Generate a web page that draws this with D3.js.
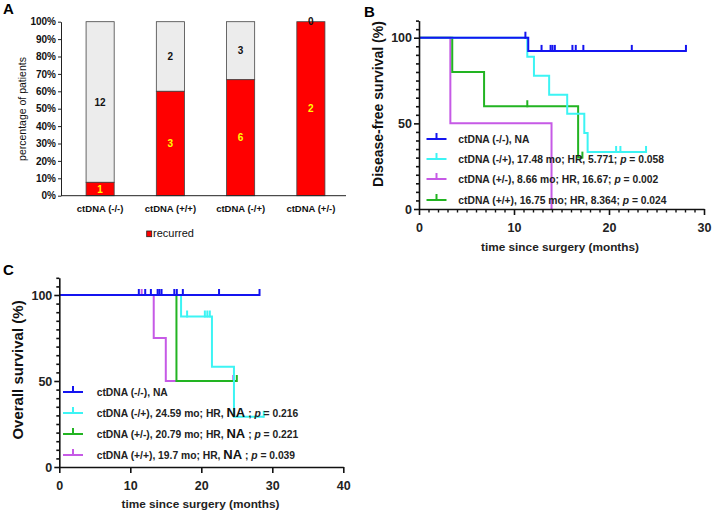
<!DOCTYPE html>
<html><head><meta charset="utf-8">
<script src="https://cdn.jsdelivr.net/npm/d3@7"></script>
<style>
body{margin:0;background:#fff;}
svg{display:block;font-family:"Liberation Sans",Arial,sans-serif;}
</style></head>
<body><svg id="c" width="714" height="514"></svg>
<script>
// ---------- Panel A data ----------
const barCategories = ["ctDNA (-/-)", "ctDNA (+/+)", "ctDNA (-/+)", "ctDNA (+/-)"];
const recurredCounts = [1, 3, 6, 2];
const notRecurredCounts = [12, 2, 3, 0];
const pctTicks = [0, 10, 20, 30, 40, 50, 60, 70, 80, 90, 100];

// ---------- Panel B (disease-free survival) ----------
const dfsLegend = ["ctDNA (-/-), NA", "ctDNA (-/+), 17.48 mo; HR, 5.771; ", "ctDNA (+/-), 8.66 mo; HR, 16.67; ", "ctDNA (+/+), 16.75 mo; HR, 8.364; "];
const dfsP = ["", "0.058", "0.002", "0.024"];
const dfsNegNeg = [[0,100],[11.5,92.3],[28.1,92.3]];
const dfsNegNegCensor = [11.2, 12.9, 13.85, 14.05, 14.3, 16.15, 16.5, 17.3, 22.4, 28.1];
const dfsNegPos = [[0,100],[11.4,88.9],[12.1,77.8],[13.7,66.7],[15.6,55.6],[17.4,44.4],[17.75,33.3],[23.9,33.3]];
const dfsNegPosCensor = [20.75, 21.2, 23.9];
const dfsPosNeg = [[0,100],[3.3,50],[13.95,0]];
const dfsPosNegCensor = [];
const dfsPosPos = [[0,100],[3.5,80],[6.85,60],[16.75,30],[17.2,30]];
const dfsPosPosCensor = [11.4, 17.2];
const dfsYTicks = [0, 50, 100];
const dfsXTicks = [0, 10, 20, 30];

// ---------- Panel C (overall survival) ----------
const osLegend = ["ctDNA (-/-), NA", "ctDNA (-/+), 24.59 mo; HR, ", "ctDNA (+/-), 20.79 mo; HR, ", "ctDNA (+/+), 19.7 mo; HR, "];
const osP = ["", "0.216", "0.221", "0.039"];
const osNegNeg = [[0,100],[28.2,100]];
const osNegNegCensor = [11.2, 12.1, 12.9, 13.85, 14.1, 14.4, 16.2, 16.55, 17.4, 22.5, 28.2];
const osNegPos = [[0,100],[17.15,87.5],[21.5,58.3],[24.6,29.2],[28.8,29.2]];
const osNegPosCensor = [18.0, 20.5, 20.85, 21.2, 28.8];
const osPosNeg = [[0,100],[16.5,50],[25.0,50]];
const osPosNegCensor = [25.0];
const osPosPos = [[0,100],[13.3,75],[15.0,50],[24.5,50]];
const osPosPosCensor = [11.6, 24.5];
const osYTicks = [0, 50, 100];
const osXTicks = [0, 10, 20, 30, 40];

const COL = {blue:"#1414f0", cyan:"#3cf4f4", purple:"#c65ae6", green:"#22b422"};

const svg = d3.select("#c");

// ================= Panel A =================
(function(){
  const g = svg.append("g");
  const y = d3.scaleLinear().domain([0,100]).range([195.7,21.7]);
  const x = d3.scaleBand().domain(barCategories).range([65,346]).padding(0);
  const bw = x.bandwidth()*0.4;
  const data = barCategories.map((c,i)=>{
    const tot = recurredCounts[i]+notRecurredCounts[i];
    return {c, r:recurredCounts[i], n:notRecurredCounts[i], pr:100*recurredCounts[i]/tot};
  });
  // gray (not recurred) full bars
  g.selectAll("rect.nr").data(data).enter().append("rect")
    .attr("x",d=>x(d.c)+x.bandwidth()/2-bw/2).attr("width",bw)
    .attr("y",y(100)).attr("height",d=>y(d.pr)-y(100))
    .attr("fill","#ececec").attr("stroke","#444").attr("stroke-width",0.8);
  g.selectAll("rect.r").data(data).enter().append("rect")
    .attr("x",d=>x(d.c)+x.bandwidth()/2-bw/2).attr("width",bw)
    .attr("y",d=>y(d.pr)).attr("height",d=>y(0)-y(d.pr))
    .attr("fill","#ff0000").attr("stroke","#444").attr("stroke-width",0.8);
  // labels
  g.selectAll("text.nr").data(data).enter().append("text")
    .attr("x",d=>x(d.c)+x.bandwidth()/2).attr("y",d=>y((d.pr+100)/2)+3.5)
    .attr("text-anchor","middle").attr("font-size",10).attr("font-weight","bold").attr("fill","#111")
    .text(d=>d.n);
  g.selectAll("text.r").data(data).enter().append("text")
    .attr("x",d=>x(d.c)+x.bandwidth()/2).attr("y",d=>y(d.pr/2)+3.5)
    .attr("text-anchor","middle").attr("font-size",10).attr("font-weight","bold").attr("fill","#ffff00")
    .text(d=>d.r);
  // y axis
  const ya = g.append("g").attr("transform","translate(61,0)")
    .call(d3.axisLeft(y).tickValues(pctTicks).tickSize(3).tickSizeOuter(0).tickFormat(d=>d+"%"));
  ya.select(".domain").attr("stroke","#222").attr("stroke-width",1);
  ya.selectAll(".tick line").attr("stroke","#222");
  ya.selectAll("text").attr("font-size",10).attr("font-weight","bold").attr("fill","#111")
    .attr("font-family","Liberation Sans, Arial, sans-serif").attr("x",-5);
  // x axis
  const xa = g.append("g").attr("transform","translate(0,195.7)")
    .call(d3.axisBottom(x).tickSize(0).tickSizeOuter(0));
  xa.select(".domain").attr("d","M-4,0H346").attr("transform","translate(0,0)").attr("stroke","#222");
  xa.select(".domain").attr("d","M61,0H346");
  xa.selectAll("text").attr("font-size",9.5).attr("font-weight","bold").attr("fill","#111")
    .attr("font-family","Liberation Sans, Arial, sans-serif").attr("dy","1.45em");
  g.append("text").attr("transform","translate(26,109) rotate(-90)")
    .attr("text-anchor","middle").attr("font-size",10.5).attr("fill","#111").text("percentage of patients");
  // legend
  g.append("rect").attr("x",146.7).attr("y",231).attr("width",5).attr("height",5.7)
    .attr("fill","#ff0000").attr("stroke","#222").attr("stroke-width",0.8);
  g.append("text").attr("x",153).attr("y",237).attr("font-size",11).attr("fill","#111").text("recurred");
  g.append("text").attr("x",3).attr("y",14).attr("font-size",15).attr("font-weight","bold").text("A");
})();

// ================= Survival panel helper =================
function survivalPanel(opt){
  const g = svg.append("g");
  const x = d3.scaleLinear().domain([0,opt.xmax]).range(opt.xr);
  const y = d3.scaleLinear().domain([0,110]).range(opt.yr);
  const line = d3.line().x(d=>x(d[0])).y(d=>y(d[1])).curve(d3.curveStepAfter);
  function survAt(steps,t){ let s=steps[0][1]; steps.forEach(p=>{ if(p[0]<=t) s=p[1]; }); return s; }
  opt.curves.forEach(c=>{
    g.append("path").attr("d",line(c.steps)).attr("fill","none").attr("stroke",c.color)
      .attr("stroke-width",2).attr("stroke-linejoin","miter");
    g.selectAll(null).data(c.censor).enter().append("line")
      .attr("x1",d=>x(d)).attr("x2",d=>x(d))
      .attr("y1",d=>y(survAt(c.steps,d))+1).attr("y2",d=>y(survAt(c.steps,d))-6)
      .attr("stroke",c.color).attr("stroke-width",2);
  });
  // axes
  const ya = g.append("g").attr("transform",`translate(${opt.xr[0]},0)`)
    .call(d3.axisLeft(y).tickValues(opt.yTicks).tickSize(5).tickSizeOuter(0));
  ya.select(".domain").attr("stroke","#111").attr("stroke-width",1.6);
  ya.selectAll(".tick line").attr("stroke","#111").attr("stroke-width",1.6);
  ya.selectAll("text").attr("font-size",12.5).attr("font-weight","bold").attr("fill","#222")
    .attr("font-family","Liberation Sans, Arial, sans-serif").attr("x",-7);
  const yMinor = d3.range(0,111,5).filter(v=>!opt.yTicks.includes(v));
  g.append("g").attr("transform",`translate(${opt.xr[0]},0)`)
    .call(d3.axisLeft(y).tickValues(yMinor).tickSize(3).tickFormat(""))
    .call(s=>{s.select(".domain").remove(); s.selectAll("line").attr("stroke","#111").attr("stroke-width",1.6);});
  const xa = g.append("g").attr("transform",`translate(0,${opt.yr[0]})`)
    .call(d3.axisBottom(x).tickValues(opt.xTicks).tickSize(6).tickSizeOuter(0));
  xa.select(".domain").attr("stroke","#111").attr("stroke-width",1.6);
  xa.selectAll(".tick line").attr("stroke","#111").attr("stroke-width",1.6);
  xa.selectAll("text").attr("font-size",12.5).attr("font-weight","bold").attr("fill","#222")
    .attr("font-family","Liberation Sans, Arial, sans-serif").attr("dy","1.15em");
  if(opt.xMinor){
    const xm = d3.range(0,opt.xmax+1,1).filter(v=>!opt.xTicks.includes(v));
    g.append("g").attr("transform",`translate(0,${opt.yr[0]})`)
      .call(d3.axisBottom(x).tickValues(xm).tickSize(3.5).tickFormat(""))
      .call(s=>{s.select(".domain").remove(); s.selectAll("line").attr("stroke","#111").attr("stroke-width",1.4);});
  }
  g.append("text").attr("transform",`translate(${opt.ytX},${opt.ytY}) rotate(-90)`)
    .attr("text-anchor","middle").attr("font-size",opt.ytSize).attr("font-weight","bold").attr("fill","#111")
    .text(opt.yTitle);
  g.append("text").attr("x",opt.xtX).attr("y",opt.xtY).attr("text-anchor","middle")
    .attr("font-size",11.8).attr("font-weight","bold").attr("fill","#222").text(opt.xTitle);
  // legend
  opt.legend.forEach((L,i)=>{
    const ly = opt.legY[i];
    g.append("line").attr("x1",opt.legX).attr("x2",opt.legX+20).attr("y1",ly).attr("y2",ly)
      .attr("stroke",L.color).attr("stroke-width",2);
    g.append("line").attr("x1",opt.legX+10).attr("x2",opt.legX+10).attr("y1",ly).attr("y2",ly-6)
      .attr("stroke",L.color).attr("stroke-width",2);
    const t = g.append("text").attr("x",opt.legTX).attr("y",ly+3.5).attr("font-size",10.3)
      .attr("font-weight","bold").attr("fill","#222");
    t.append("tspan").text(L.text);
    if(L.na){ t.append("tspan").attr("font-size",13).attr("font-weight","bold").attr("fill","#111").text(" NA"); t.append("tspan").text(" ; "); }
    if(L.p){ t.append("tspan").attr("font-style","italic").text("p"); t.append("tspan").text(" = "+L.p); }
  });
  g.append("text").attr("x",opt.lab[0]).attr("y",opt.lab[1]).attr("font-size",15).attr("font-weight","bold").text(opt.label);
}

survivalPanel({
  xmax:30, xr:[419,704], yr:[209,20.6], yTicks:dfsYTicks, xTicks:dfsXTicks, xMinor:true,
  curves:[
    {steps:dfsPosNeg, censor:dfsPosNegCensor, color:COL.purple},
    {steps:dfsPosPos, censor:dfsPosPosCensor, color:COL.green},
    {steps:dfsNegPos, censor:dfsNegPosCensor, color:COL.cyan},
    {steps:dfsNegNeg, censor:dfsNegNegCensor, color:COL.blue}
  ],
  yTitle:"Disease-free survival (%)", ytX:383, ytY:104, ytSize:14,
  xTitle:"time since surgery (months)", xtX:560, xtY:251,
  legend:[
    {text:dfsLegend[0], p:dfsP[0], color:COL.blue},
    {text:dfsLegend[1], p:dfsP[1], color:COL.cyan},
    {text:dfsLegend[2], p:dfsP[2], color:COL.purple},
    {text:dfsLegend[3], p:dfsP[3], color:COL.green}
  ],
  legX:426.5, legTX:458.3, legY:[139,159,179,200],
  label:"B", lab:[364,17]
});

survivalPanel({
  xmax:40, xr:[59.3,343.3], yr:[467,277.8], yTicks:osYTicks, xTicks:osXTicks, xMinor:false,
  curves:[
    {steps:osPosPos, censor:osPosPosCensor, color:COL.purple},
    {steps:osPosNeg, censor:osPosNegCensor, color:COL.green},
    {steps:osNegPos, censor:osNegPosCensor, color:COL.cyan},
    {steps:osNegNeg, censor:osNegNegCensor, color:COL.blue}
  ],
  yTitle:"Overall survival (%)", ytX:23, ytY:370, ytSize:15,
  xTitle:"time since surgery (months)", xtX:200.5, xtY:507.5,
  legend:[
    {text:osLegend[0], p:osP[0], color:COL.blue},
    {text:osLegend[1], p:osP[1], na:true, color:COL.cyan},
    {text:osLegend[2], p:osP[2], na:true, color:COL.green},
    {text:osLegend[3], p:osP[3], na:true, color:COL.purple}
  ],
  legX:63, legTX:96.7, legY:[392,413,434,455],
  label:"C", lab:[3,275]
});
</script></body></html>
